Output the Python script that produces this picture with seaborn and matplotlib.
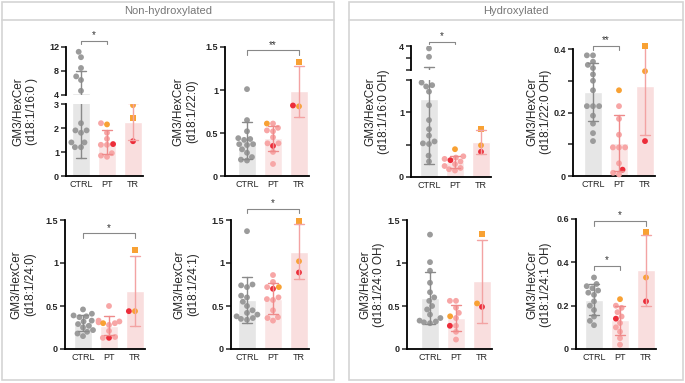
import numpy as np
import pandas as pd
import seaborn as sns
import matplotlib.pyplot as plt
from matplotlib.patches import Rectangle
from matplotlib.lines import Line2D
from matplotlib.ticker import FuncFormatter

W, H = 685, 383

groups = ['CTRL', 'PT', 'TR']
chains = ['d18:1/16:0 ', 'd18:1/22:0', 'd18:1/16:0 OH', 'd18:1/22:0 OH',
          'd18:1/24:0', 'd18:1/24:1', 'd18:1/24:0 OH', 'd18:1/24:1 OH']

# CTRL values per species
ctrl_16_0 = [11.2, 10.3, 8.5, 7.1, 6.5, 4.7, 2.2, 1.9, 1.9, 1.8, 1.4, 1.4, 1.2, 1.2]
ctrl_22_0 = [1.01, 0.65, 0.52, 0.44, 0.43, 0.42, 0.37, 0.37, 0.36, 0.31, 0.27, 0.22, 0.19, 0.18]
ctrl_16_0_oh = [3.8, 3.1, 1.46, 1.42, 1.40, 1.32, 1.11, 0.88, 0.74, 0.64, 0.55, 0.52, 0.51, 0.33, 0.24]
ctrl_22_0_oh = [0.38, 0.38, 0.36, 0.35, 0.34, 0.32, 0.30, 0.27, 0.22, 0.22, 0.22, 0.19, 0.165, 0.135, 0.11]
ctrl_24_0 = [0.46, 0.41, 0.39, 0.38, 0.37, 0.33, 0.32, 0.29, 0.27, 0.25, 0.22, 0.20, 0.18, 0.15]
ctrl_24_1 = [1.37, 0.75, 0.74, 0.72, 0.62, 0.60, 0.55, 0.50, 0.45, 0.42, 0.40, 0.38, 0.36, 0.35, 0.34]
ctrl_24_0_oh = [1.33, 1.01, 0.91, 0.77, 0.66, 0.60, 0.56, 0.50, 0.46, 0.40, 0.36, 0.33, 0.32, 0.31, 0.30]
ctrl_24_1_oh = [0.33, 0.30, 0.29, 0.28, 0.27, 0.26, 0.25, 0.22, 0.20, 0.18, 0.15, 0.13, 0.11]

# PT values (pink) per species
pt_16_0 = [2.2, 1.8, 1.55, 1.3, 1.3, 0.95, 0.85, 0.8]
pt_22_0 = [0.61, 0.56, 0.53, 0.52, 0.45, 0.38, 0.38, 0.28, 0.14]
pt_16_0_oh = [0.32, 0.30, 0.28, 0.24, 0.20, 0.17, 0.14, 0.12, 0.10]
pt_22_0_oh = [0.22, 0.18, 0.13, 0.09, 0.09, 0.09, 0.04, 0.01, 0.005]
pt_24_0 = [0.50, 0.33, 0.32, 0.31, 0.30, 0.28, 0.21, 0.14, 0.13]
pt_24_1 = [0.86, 0.78, 0.72, 0.60, 0.58, 0.57, 0.45, 0.37, 0.36, 0.33]
pt_24_0_oh = [0.56, 0.56, 0.48, 0.42, 0.36, 0.27, 0.20, 0.11]
pt_24_1_oh = [0.20, 0.19, 0.17, 0.15, 0.12, 0.10, 0.08, 0.05, 0.02]

# highlighted samples, one value per species (same order as chains)
pt_orange = [2.15, 0.61, 0.43, 0.27, 0.30, 0.72, 0.38, 0.23]
pt_red = [1.33, 0.35, 0.26, 0.02, 0.13, 0.70, 0.27, 0.14]
tr_orange = [2.95, 0.81, 0.49, 0.33, 0.44, 1.02, 0.53, 0.33]
tr_square = [2.4, 1.33, 0.75, 0.41, 1.15, 1.49, 1.34, 0.54]
tr_red = [1.45, 0.82, 0.39, 0.11, 0.44, 0.89, 0.49, 0.22]

ctrl = [ctrl_16_0, ctrl_22_0, ctrl_16_0_oh, ctrl_22_0_oh, ctrl_24_0, ctrl_24_1, ctrl_24_0_oh, ctrl_24_1_oh]
pt = [pt_16_0, pt_22_0, pt_16_0_oh, pt_22_0_oh, pt_24_0, pt_24_1, pt_24_0_oh, pt_24_1_oh]

bar_pal = {'CTRL': '#e6e6e6', 'PT': '#fde2e2', 'TR': '#fddada'}
err_pal = {'CTRL': '#8a8a8a', 'PT': '#ee8a8a', 'TR': '#f3a3a3'}
pt_pal = {'ctrl': '#9b9b9b', 'pt': '#f7a6a6', 'orange': '#f8a133', 'red': '#ec2d3a'}
kinds = ['ctrl', 'pt', 'orange', 'red']


def make_df(i):
    rows = [('CTRL', v, 'ctrl') for v in ctrl[i]] + [('PT', v, 'pt') for v in pt[i]]
    rows += [('PT', pt_orange[i], 'orange'), ('PT', pt_red[i], 'red'),
             ('TR', tr_orange[i], 'orange'), ('TR', tr_square[i], 'square'), ('TR', tr_red[i], 'red')]
    return pd.DataFrame(rows, columns=['group', 'value', 'kind'])


sns.set_style('ticks')
plt.rcParams['font.family'] = ['Liberation Sans', 'DejaVu Sans']
fig = plt.figure(figsize=(W / 100, H / 100), dpi=100)
fmt = FuncFormatter(lambda v, p: f'{v:g}')


def add_axes(x_spine, x_ctrl, y_top, y_bot):
    unit = 26
    xmin = -(x_ctrl - x_spine) / unit
    xmax = 2.4
    ax = fig.add_axes([x_spine / W, 1 - y_bot / H, (xmax - xmin) * unit / W, (y_bot - y_top) / H])
    return ax, (xmin, xmax)


def draw(ax, df, xlim, ylim, major, minor=None, bottom=True, clip=False):
    sns.barplot(data=df, x='group', y='value', hue='group', order=groups, hue_order=groups,
                palette=bar_pal, errorbar=None, width=0.7, legend=False, ax=ax)
    circ = df[df.kind != 'square']
    sns.swarmplot(data=circ, x='group', y='value', hue='kind', order=groups, hue_order=kinds,
                  palette=pt_pal, size=4.2, linewidth=0, legend=False, ax=ax, zorder=3, clip_on=clip)
    sq = df[df.kind == 'square']
    sns.stripplot(data=sq, x='group', y='value', order=groups, color='#f8a133', marker='s',
                  size=4.5, linewidth=0, jitter=False, ax=ax, zorder=3, clip_on=clip)
    sns.pointplot(data=df, x='group', y='value', hue='group', order=groups, hue_order=groups,
                  palette=err_pal, errorbar='sd', capsize=0.35, linestyle='none', marker='',
                  err_kws={'linewidth': 1, 'zorder': 4}, legend=False, ax=ax)
    ax.set_xlim(*xlim)
    ax.set_ylim(*ylim)
    ax.set_yticks(major)
    if minor is not None:
        ax.set_yticks(minor, minor=True)
    ax.yaxis.set_major_formatter(fmt)
    ax.set_xlabel('')
    ax.set_ylabel('')
    sns.despine(ax=ax)
    for s in ['left', 'bottom']:
        ax.spines[s].set_linewidth(1.3)
        ax.spines[s].set_color('black')
    ax.tick_params(axis='y', which='both', length=3.5, width=1.1, labelsize=6.5, pad=1.5)
    for t in ax.get_yticklabels():
        t.set_fontweight('bold')
    ax.tick_params(axis='x', length=0, labelsize=6.5, pad=3)
    if not bottom:
        ax.spines['bottom'].set_visible(False)
        ax.set_xticks([])


def bracket(ax, i0, i1, y, drop, text):
    ax.plot([i0, i0, i1, i1], [y - drop, y, y, y - drop], color='#888888', lw=0.8, clip_on=False)
    ax.annotate(text, (np.mean([i0, i1]), y), xytext=(0, 0.5), textcoords='offset points',
                ha='center', va='bottom', fontsize=7, color='#333333', annotation_clip=False)


# panel boxes and headers
for x0, x1, title in [(2, 334, 'Non-hydroxylated'), (349, 683, 'Hydroxylated')]:
    fig.add_artist(Rectangle((x0 / W, 1 - 380 / H), (x1 - x0) / W, 378 / H, transform=fig.transFigure,
                             fill=False, ec='#d4d4d4', lw=1.2))
    fig.add_artist(Line2D([x0 / W, x1 / W], [1 - 20 / H] * 2, color='#d4d4d4', lw=1.2))
    fig.text((x0 + x1) / 2 / W, 1 - 11 / H, title, ha='center', va='center', fontsize=8, color='#777777')

# panel 0: broken axis
df = make_df(0)
ax_lo, xl = add_axes(66, 81, 104, 176)
draw(ax_lo, df, xl, (0, 3), [0, 1, 2, 3], clip=True)
ax_hi, xl = add_axes(66, 81, 47, 95)
draw(ax_hi, df, xl, (4, 12), [4, 8, 12], bottom=False, clip=True)
bracket(ax_hi, 0, 1, 13, 0.5, '*')

# panel 1
df = make_df(1)
ax, xl = add_axes(225, 247, 47, 176)
draw(ax, df, xl, (0, 1.5), [0, 0.5, 1, 1.5])
bracket(ax, 0, 2, 1.46, 0.05, '**')

# panel 2: broken axis
df = make_df(2)
ax_lo, xl = add_axes(411, 429, 80, 177)
draw(ax_lo, df, xl, (0, 1.5), [0, 1], minor=[0.5, 1.5], clip=True)
ax_hi, xl = add_axes(411, 429, 46, 70)
draw(ax_hi, df, xl, (2, 4), [4], minor=[2, 3], bottom=False, clip=True)
bracket(ax_hi, 0, 1, 4.33, 0.15, '*')

# panel 3
df = make_df(3)
ax, xl = add_axes(573, 593, 49, 176)
draw(ax, df, xl, (0, 0.4), [0, 0.2, 0.4], minor=[0.1, 0.3])
bracket(ax, 0, 1, 0.41, 0.012, '**')

# bottom row
df = make_df(4)
ax, xl = add_axes(65, 83, 220, 349)
draw(ax, df, xl, (0, 1.5), [0, 0.5, 1, 1.5])
bracket(ax, 0, 2, 1.345, 0.05, '*')

df = make_df(5)
ax, xl = add_axes(231, 247, 220, 349)
draw(ax, df, xl, (0, 1.5), [0, 0.5, 1, 1.5])
bracket(ax, 0, 2, 1.63, 0.05, '*')

df = make_df(6)
ax, xl = add_axes(407, 430, 220, 349)
draw(ax, df, xl, (0, 1.5), [0, 0.5, 1, 1.5])

df = make_df(7)
ax, xl = add_axes(576, 594, 219, 349)
draw(ax, df, xl, (0, 0.6), [0, 0.2, 0.4, 0.6])
bracket(ax, 0, 2, 0.59, 0.02, '*')
bracket(ax, 0, 1, 0.385, 0.02, '*')

# y labels
label_x = [38, 198, 390, 552, 36, 199, 385, 552]
for i, chain in enumerate(chains):
    yc = 111.5 if i < 4 else 284.5
    fig.text(label_x[i] / W, 1 - yc / H, 'GM3/HexCer\n(' + chain + ')', rotation=90,
             ha='right', va='center', multialignment='center', fontsize=8.5)

fig.savefig('out.png', dpi=100, facecolor='white')
